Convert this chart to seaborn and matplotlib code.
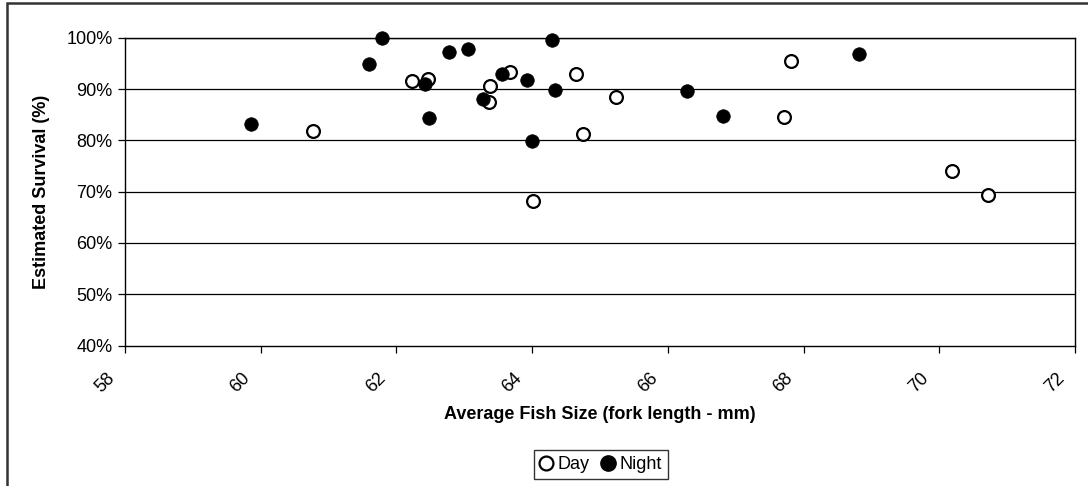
import numpy as np
import pandas as pd
import seaborn as sns
import matplotlib.pyplot as plt
import matplotlib.transforms as mtransforms
from matplotlib.patches import Rectangle
from matplotlib.lines import Line2D
from matplotlib.ticker import PercentFormatter

# Data
day_size = [60.77, 62.23, 62.47, 63.38, 63.36, 63.68, 64.65, 65.24, 64.75, 64.02, 67.82, 67.71, 70.19, 70.72]
day_surv = [81.8, 91.6, 92.0, 90.6, 87.5, 93.3, 92.9, 88.4, 81.2, 68.2, 95.5, 84.5, 74.1, 69.4]

night_size = [59.86, 61.79, 61.60, 62.77, 63.06, 62.42, 62.48, 63.27, 63.56, 63.93, 64.30, 64.33, 64.00, 66.28, 66.81, 68.81]
night_surv = [83.1, 100.0, 94.9, 97.2, 97.7, 90.9, 84.4, 88.0, 92.9, 91.7, 99.5, 89.9, 79.9, 89.7, 84.7, 96.8]

day_df = pd.DataFrame({"size": day_size, "survival": day_surv})
night_df = pd.DataFrame({"size": night_size, "survival": night_surv})

sns.set_style("white")
plt.rcParams['font.family'] = ['Liberation Sans', 'DejaVu Sans']
plt.rcParams['text.color'] = 'black'
plt.rcParams['axes.labelcolor'] = 'black'
plt.rcParams['xtick.color'] = 'black'
plt.rcParams['ytick.color'] = 'black'

fig = plt.figure(figsize=(10.88, 4.86), dpi=100)
ax = fig.add_axes([125 / 1088, 1 - 345.5 / 486, 950 / 1088, 307.8 / 486])

sns.scatterplot(data=day_df, x="size", y="survival", ax=ax, s=85,
                facecolor="white", edgecolor="black", linewidth=1.6, zorder=3, clip_on=False)
sns.scatterplot(data=night_df, x="size", y="survival", ax=ax, s=95,
                color="black", edgecolor="black", linewidth=0.5, zorder=4, clip_on=False)

ax.set_xlim(58, 72)
ax.set_ylim(40, 100)
ax.set_xticks(np.arange(58, 73, 2))
ax.set_yticks(np.arange(40, 101, 10))
ax.yaxis.set_major_formatter(PercentFormatter(decimals=0))
for y in np.arange(50, 101, 10):
    ax.axhline(y, color="black", lw=0.9, zorder=1)

for sp in ax.spines.values():
    sp.set_visible(True)
    sp.set_color("black")
    sp.set_linewidth(1.0)

ax.tick_params(axis="both", direction="out", length=5, width=0.9, color="black",
               labelcolor="black", labelsize=13, bottom=True, left=True)
ax.tick_params(axis="y", pad=4)
ax.tick_params(axis="x", pad=12.5)
shift = mtransforms.ScaledTranslation(-7 / 100, 0, fig.dpi_scale_trans)
for lab in ax.get_xticklabels():
    lab.set_rotation(45)
    lab.set_ha("right")
    lab.set_va("top")
    lab.set_transform(lab.get_transform() + shift)

ax.set_xlabel("Average Fish Size (fork length - mm)", fontsize=13, fontweight="bold", labelpad=7)
ax.set_ylabel("Estimated Survival (%)", fontsize=13, fontweight="bold", labelpad=12)

handles = [
    Line2D([], [], marker="o", ls="", markersize=10, markerfacecolor="white",
           markeredgecolor="black", markeredgewidth=1.6, label="Day"),
    Line2D([], [], marker="o", ls="", markersize=11, markerfacecolor="black",
           markeredgecolor="black", label="Night"),
]
leg = fig.legend(handles=handles, loc="center", bbox_to_anchor=(601 / 1088, 1 - 464.5 / 486),
                 ncol=2, fontsize=13, frameon=True, fancybox=False, handlelength=0.6,
                 handletextpad=0.35, columnspacing=0.7, borderpad=0.35, borderaxespad=0)
leg.get_frame().set_edgecolor("black")
leg.get_frame().set_linewidth(1.0)

# outer chart border
fig.patches.append(Rectangle((7 / 1088, -0.1), 1.1, 1.1 - 3 / 486, transform=fig.transFigure,
                             fill=False, edgecolor="#333333", linewidth=1.8))

fig.savefig("out.png", dpi=100)
